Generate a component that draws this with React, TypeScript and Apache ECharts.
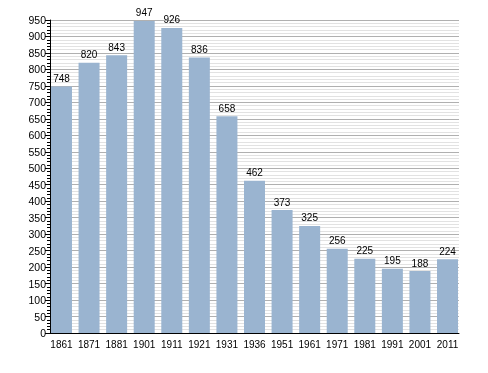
import React, { useEffect, useRef } from "react";
import * as echarts from "echarts";

const years = ["1861", "1871", "1881", "1901", "1911", "1921", "1931", "1936", "1951", "1961", "1971", "1981", "1991", "2001", "2011"];
const population = [748, 820, 843, 947, 926, 836, 658, 462, 373, 325, 256, 225, 195, 188, 224];

const FONT = "Liberation Sans, Arial, sans-serif";

export default function App() {
  const ref = useRef<HTMLDivElement>(null);
  useEffect(() => {
    if (!ref.current) return;
    const chart = echarts.init(ref.current, undefined, { renderer: "svg" });
    chart.setOption({
      animation: false,
      grid: [
        { left: 50, right: 29, top: 20, bottom: 40 },
        { left: 47.7, right: 26.7, top: 20, bottom: 40 },
      ],
      xAxis: [
        {
          type: "category",
          gridIndex: 0,
          data: years,
          axisLine: { show: true, lineStyle: { color: "#000", width: 1 } },
          axisTick: { show: false },
          axisLabel: { show: false },
        },
        {
          type: "category",
          gridIndex: 1,
          data: years,
          axisLine: { show: false },
          axisTick: { show: false },
          axisLabel: { interval: 0, color: "#000", fontSize: 10, fontFamily: FONT, margin: 6 },
        },
      ],
      yAxis: [
        {
          type: "value",
          gridIndex: 0,
          min: 0,
          max: 950,
          interval: 50,
          axisLine: { show: true, lineStyle: { color: "#000", width: 1 } },
          axisTick: { show: true, inside: false, length: 5, lineStyle: { color: "#000" } },
          minorTick: { show: true, splitNumber: 5, length: 3, lineStyle: { color: "#000" } },
          axisLabel: { color: "#000", fontSize: 10.5, fontFamily: FONT, margin: 4 },
          splitLine: { show: true, lineStyle: { color: "#b0b0b0", width: 1 } },
          minorSplitLine: { show: true, lineStyle: { color: "#e2e2e2", width: 1 } },
        },
        {
          type: "value",
          gridIndex: 1,
          min: 0,
          max: 950,
          interval: 50,
          show: false,
          splitLine: { show: false },
        },
      ],
      series: [
        {
          type: "bar",
          xAxisIndex: 1,
          yAxisIndex: 1,
          data: population,
          barWidth: 21,
          itemStyle: { color: "#9ab4d0" },
          label: {
            show: true,
            position: "top",
            distance: 3,
            color: "#000",
            fontSize: 10,
            fontFamily: FONT,
          },
        },
      ],
    });
    return () => chart.dispose();
  }, []);
  return <div ref={ref} style={{ position: "fixed", left: 0, top: 0, width: 488, height: 373 }} />;
}
